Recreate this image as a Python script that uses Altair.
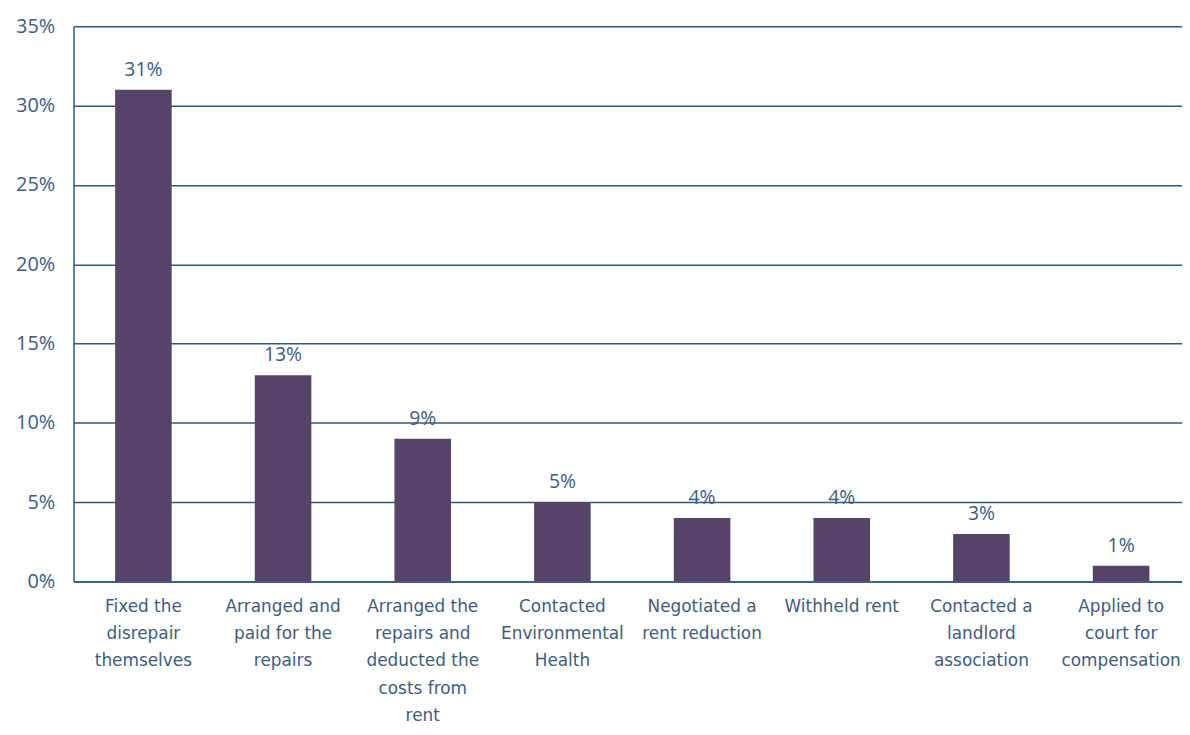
import altair as alt
import pandas as pd

categories = [
    "Fixed the\ndisrepair\nthemselves",
    "Arranged and\npaid for the\nrepairs",
    "Arranged the\nrepairs and\ndeducted the\ncosts from\nrent",
    "Contacted\nEnvironmental\nHealth",
    "Negotiated a\nrent reduction",
    "Withheld rent",
    "Contacted a\nlandlord\nassociation",
    "Applied to\ncourt for\ncompensation",
]
values = [0.31, 0.13, 0.09, 0.05, 0.04, 0.04, 0.03, 0.01]
y_ticks = [0, 0.05, 0.10, 0.15, 0.20, 0.25, 0.30, 0.35]

df = pd.DataFrame({"cat": categories, "val": values})

BAR = "#554468"
LINE = "#2b5a84"
TEXT = "#3e5c7e"
FONT = "Open Sans"
XFONT = "DejaVu Sans"

x = alt.X(
    "cat:N",
    sort=None,
    title=None,
    scale=alt.Scale(range=[0, 1125], paddingInner=0.595, paddingOuter=0.2975),
    axis=alt.Axis(
        labelExpr="split(datum.label, '\\n')",
        labelAngle=0,
        labelFont=XFONT,
        labelFontSize=17,
        labelColor=TEXT,
        labelLineHeight=27.5,
        labelPadding=17,
        labelBaseline="top",
        labelLimit=0,
        ticks=False,
        domain=True,
        domainColor=LINE,
        domainWidth=1.5,
        grid=False,
    ),
)

y = alt.Y(
    "val:Q",
    title=None,
    scale=alt.Scale(domain=[0, 0.35], nice=False),
    axis=alt.Axis(
        values=y_ticks,
        format=".0%",
        labelFont=FONT,
        labelFontSize=20,
        labelColor=TEXT,
        labelPadding=19,
        ticks=False,
        domain=True,
        domainColor=LINE,
        domainWidth=1.5,
        grid=True,
        gridColor=LINE,
        gridWidth=1.5,
    ),
)

bars = alt.Chart(df).mark_bar(color=BAR).encode(x=x, y=y)
labels = alt.Chart(df).mark_text(
    baseline="bottom", dy=-10, font=FONT, fontSize=19.5, color=TEXT
).encode(x=alt.X("cat:N", sort=None), y="val:Q", text=alt.Text("val:Q", format=".0%"))

chart = (
    (bars + labels)
    .properties(
        width=1116,
        height=559,
        autosize=alt.AutoSizeParams(type="none"),
        padding={"left": 66, "top": 16, "right": 0, "bottom": 143},
        background="white",
    )
    .configure_view(stroke=None)
)

chart.save("out.html", embed_options={"renderer": "svg", "actions": False})
